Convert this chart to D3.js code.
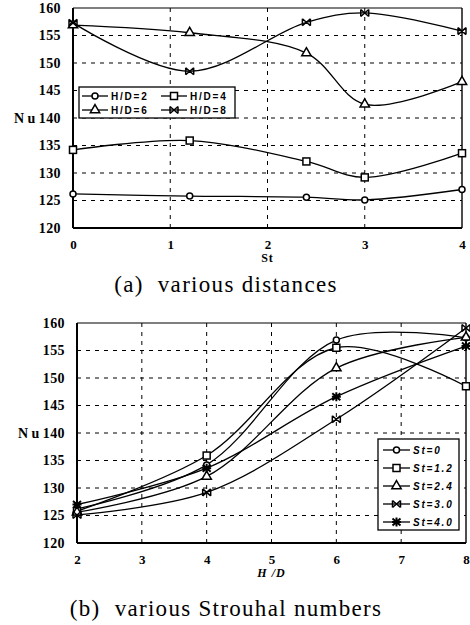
<!DOCTYPE html>
<html>
<head>
<meta charset="utf-8">
<script src="https://cdn.jsdelivr.net/npm/d3@7"></script>
<style>
  body { margin: 0; background: #fff; }
  svg { display: block; }
</style>
</head>
<body>
<div id="chart"></div>
<script>
// Strouhal numbers (x of chart a) and H/D distances (x of chart b)
var stValues = [0, 1.2, 2.4, 3, 4];
var hdValues = [2, 4, 6, 8];

// Nu for each H/D, one value per St
var nuHD2 = [126.2, 125.8, 125.6, 125.1, 127.0];
var nuHD4 = [134.2, 135.9, 132.1, 129.2, 133.6];
var nuHD6 = [156.9, 155.5, 151.8, 142.5, 146.6];
var nuHD8 = [157.3, 148.5, 157.4, 159.1, 155.8];

var hdLabels = ["H/D=2", "H/D=4", "H/D=6", "H/D=8"];
var stLabels = ["St=0", "St=1.2", "St=2.4", "St=3.0", "St=4.0"];

var yTicks = [120, 125, 130, 135, 140, 145, 150, 155, 160];
var xTicksA = [0, 1, 2, 3, 4];
var xTicksB = [2, 3, 4, 5, 6, 7, 8];

function init(){

    var w = 470;
    var h = 625;

    var svg = d3.select("#chart")
                .append("svg")
                .attr("width", w)
                .attr("height", h);

    var hdSeries = [nuHD2, nuHD4, nuHD6, nuHD8];
    var markersA = ["circle", "square", "triangle", "cross"];
    var markersB = ["circle", "square", "triangle", "cross", "star"];

    // chart (a): Nu vs St, one line per H/D
    var seriesA = hdSeries.map(function(vals, k) {
        return { marker: markersA[k], label: hdLabels[k],
                 points: stValues.map(function(s, i) { return [s, vals[i]]; }) };
    });

    // chart (b): Nu vs H/D, one line per St (same measurements)
    var seriesB = stValues.map(function(s, i) {
        return { marker: markersB[i], label: stLabels[i],
                 points: hdValues.map(function(hd, k) { return [hd, hdSeries[k][i]]; }) };
    });

    var xA = d3.scaleLinear().domain([0, 4]).range([73, 462]);
    var yA = d3.scaleLinear().domain([120, 160]).range([228, 8]);
    var xB = d3.scaleLinear().domain([2, 8]).range([77, 466]);
    var yB = d3.scaleLinear().domain([120, 160]).range([543, 323]);

    drawPanel(svg, xA, yA, xTicksA, seriesA, "St", false, "(a)  various distances", 292);
    drawPanel(svg, xB, yB, xTicksB, seriesB, "H /D", true, "(b)  various Strouhal numbers", 616);

    // legend (a): two columns, two rows
    var la = svg.append("g");
    la.append("rect")
        .attr("x", 79).attr("y", 87)
        .attr("width", 156).attr("height", 31)
        .attr("fill", "#fff")
        .attr("stroke", "#000")
        .attr("stroke-width", 1.3);
    seriesA.forEach(function(s, k) {
        var cx = (k % 2 == 0) ? 82 : 161;
        var cy = (k < 2) ? 96 : 110;
        legendItem(la, s, cx, cy, 26);
    });

    // legend (b): one column
    var lb = svg.append("g");
    lb.append("rect")
        .attr("x", 378).attr("y", 439)
        .attr("width", 81).attr("height", 91)
        .attr("fill", "#fff")
        .attr("stroke", "#000")
        .attr("stroke-width", 1.3);
    seriesB.forEach(function(s, i) {
        legendItem(lb, s, 383, 450 + i * 18, 27, true);
    });
}

function drawPanel(svg, x, y, xTicks, series, xTitle, italicTitle, caption, captionY){

    var g = svg.append("g");
    var x0 = x.range()[0], x1 = x.range()[1];
    var y0 = y.range()[0], y1 = y.range()[1];

    // dashed grid
    g.selectAll(".hgrid")
        .data(yTicks.slice(1, -1))
        .enter()
        .append("line")
        .attr("x1", x0).attr("x2", x1)
        .attr("y1", function(d) { return y(d); })
        .attr("y2", function(d) { return y(d); })
        .attr("stroke", "#000")
        .attr("stroke-width", 1)
        .attr("stroke-dasharray", "4,5");

    g.selectAll(".vgrid")
        .data(xTicks.slice(1, -1))
        .enter()
        .append("line")
        .attr("x1", function(d) { return x(d); })
        .attr("x2", function(d) { return x(d); })
        .attr("y1", y0).attr("y2", y1)
        .attr("stroke", "#000")
        .attr("stroke-width", 1)
        .attr("stroke-dasharray", "4,5");

    // frame: heavy left/bottom, light top/right
    g.append("line").attr("x1", x0).attr("x2", x1).attr("y1", y1).attr("y2", y1)
        .attr("stroke", "#000").attr("stroke-width", 1.2);
    g.append("line").attr("x1", x1).attr("x2", x1).attr("y1", y0).attr("y2", y1)
        .attr("stroke", "#000").attr("stroke-width", 1.4);
    g.append("line").attr("x1", x0).attr("x2", x1).attr("y1", y0).attr("y2", y0)
        .attr("stroke", "#000").attr("stroke-width", 2);
    g.append("line").attr("x1", x0).attr("x2", x0).attr("y1", y0).attr("y2", y1)
        .attr("stroke", "#000").attr("stroke-width", 2);

    // axes labels via d3 axes, lines hidden
    var yAxis = g.append("g")
        .attr("transform", "translate(" + (x0 - 12) + ",0)")
        .call(d3.axisLeft(y).tickValues(yTicks).tickSize(0).tickPadding(0));
    yAxis.select(".domain").remove();
    yAxis.selectAll("text")
        .attr("font-family", "'Liberation Serif', serif")
        .attr("font-weight", "bold")
        .attr("font-size", "14px")
        .attr("letter-spacing", "0.4px")
        .attr("fill", "#000");

    var xAxis = g.append("g")
        .attr("transform", "translate(0," + (y0 + 12) + ")")
        .call(d3.axisBottom(x).tickValues(xTicks).tickFormat(d3.format("d")).tickSize(0).tickPadding(0));
    xAxis.select(".domain").remove();
    xAxis.selectAll("text")
        .attr("font-family", "'Liberation Serif', serif")
        .attr("font-weight", "bold")
        .attr("font-size", "13px")
        .attr("fill", "#000");

    g.append("text")
        .text("N u")
        .attr("x", x0 - 59)
        .attr("y", y(140) + 5)
        .attr("font-family", "'Liberation Serif', serif")
        .attr("font-weight", "bold")
        .attr("font-size", "14px");

    g.append("text")
        .text(xTitle)
        .attr("x", italicTitle ? x(5) : x(2))
        .attr("y", y0 + 34)
        .attr("text-anchor", "middle")
        .attr("font-family", "'Liberation Serif', serif")
        .attr("font-weight", "bold")
        .attr("font-style", italicTitle ? "italic" : "normal")
        .attr("font-size", "12px")
        .attr("letter-spacing", "1px");

    // curves
    var line = d3.line()
        .x(function(d) { return x(d[0]); })
        .y(function(d) { return y(d[1]); })
        .curve(d3.curveCatmullRom);

    g.selectAll(".curve")
        .data(series)
        .enter()
        .append("path")
        .attr("d", function(d) { return line(d.points); })
        .attr("fill", "none")
        .attr("stroke", "#000")
        .attr("stroke-width", 1.3);

    series.forEach(function(s) {
        s.points.forEach(function(p) {
            marker(g, s.marker, x(p[0]), y(p[1]));
        });
    });

    svg.append("text")
        .text(caption)
        .attr("x", 226)
        .attr("y", captionY)
        .attr("text-anchor", "middle")
        .attr("font-family", "'Liberation Serif', serif")
        .attr("font-size", "23px")
        .attr("letter-spacing", "1.3px")
        .attr("xml:space", "preserve")
        .style("white-space", "pre");
}

function marker(g, type, cx, cy){

    var m;
    if (type == "circle") {
        m = g.append("circle").attr("r", 3);
    } else if (type == "square") {
        m = g.append("rect").attr("x", -3.5).attr("y", -3.5).attr("width", 7).attr("height", 7);
    } else if (type == "triangle") {
        m = g.append("path").attr("d", d3.symbol().type(d3.symbolTriangle).size(38)());
    } else if (type == "cross") {
        m = g.append("path").attr("d", "M-4,-3.5L4,3.5M-4,3.5L4,-3.5M-4,-3.5V3.5M4,-3.5V3.5");
    } else {
        m = g.append("path").attr("d", "M-4,-3.5L4,3.5M-4,3.5L4,-3.5M0,-4.5V4.5M-4.5,0H4.5");
    }
    m.attr("transform", "translate(" + cx + "," + cy + ")")
        .attr("fill", type == "cross" || type == "star" ? "none" : "#fff")
        .attr("stroke", "#000")
        .attr("stroke-width", type == "star" ? 2 : 1.5);
}

function legendItem(g, s, lx, ly, len, italic){

    g.append("line")
        .attr("x1", lx).attr("x2", lx + len)
        .attr("y1", ly).attr("y2", ly)
        .attr("stroke", "#000")
        .attr("stroke-width", 1.3);
    marker(g, s.marker, lx + len / 2, ly);
    g.append("text")
        .text(s.label)
        .attr("x", lx + len + 3)
        .attr("y", ly + 4)
        .attr("font-family", "'Liberation Sans', sans-serif")
        .attr("font-weight", "bold")
        .attr("font-style", italic ? "italic" : "normal")
        .attr("font-size", "10px")
        .attr("letter-spacing", "1.8px");
}

window.onload = init;
</script>
</body>
</html>
